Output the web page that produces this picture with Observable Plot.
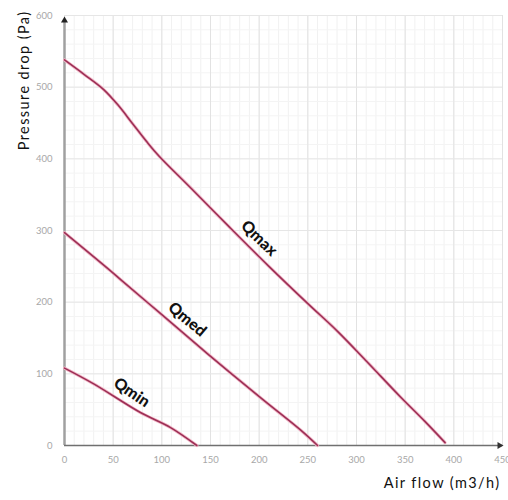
<!DOCTYPE html>
<html>
<head>
<meta charset="utf-8">
<script src="https://cdn.jsdelivr.net/npm/d3@7"></script>
<script src="https://cdn.jsdelivr.net/npm/@observablehq/plot@0.6"></script>
<style>
  html, body { margin: 0; padding: 0; background: #fff; }
  #chart svg { display: block; }
  .axis-title text { letter-spacing: 1.4px; }
</style>
</head>
<body>
<div id="chart"></div>
<script>
// Axis ticks
const xTicks = [0, 50, 100, 150, 200, 250, 300, 350, 400, 450];
const yTicks = [0, 100, 200, 300, 400, 500, 600];

// Curves (air flow m3/h, pressure drop Pa)
const qmaxFlow = [0, 20, 40, 55, 70, 85, 97, 130, 170, 210, 250, 280, 310, 345, 370, 391];
const qmaxPressure = [538, 518, 497, 475, 449, 423, 404, 359, 304, 250, 198, 160, 118, 68, 34, 4];

const qmedFlow = [0, 47, 58, 97, 147, 202, 243, 260];
const qmedPressure = [297, 244, 231, 186, 128, 66, 21, 0];

const qminFlow = [0, 30, 78, 109, 136];
const qminPressure = [108, 86, 46, 25, 0];

// Curve labels
const labelNames = ["Qmax", "Qmed", "Qmin"];
const labelFlow = [200, 126, 69];
const labelPressure = [289, 176, 74];

const curves = [
  ["Qmax", qmaxFlow, qmaxPressure],
  ["Qmed", qmedFlow, qmedPressure],
  ["Qmin", qminFlow, qminPressure]
].flatMap(([name, xs, ys]) => xs.map((x, i) => ({name, flow: x, pressure: ys[i]})));

const labels = labelNames.map((n, i) => ({name: n, flow: labelFlow[i], pressure: labelPressure[i]}));
const labelAngles = {Qmax: 44, Qmed: 40, Qmin: 34};

const xMax = xTicks[xTicks.length - 1];
const yMax = yTicks[yTicks.length - 1];

const chart = Plot.plot({
  width: 508,
  height: 500,
  marginLeft: 64,
  marginRight: 6,
  marginTop: 15,
  marginBottom: 55,
  style: {fontFamily: "Lato, sans-serif", background: "#fff"},
  x: {domain: [0, xMax]},
  y: {domain: [0, yMax]},
  marks: [
    Plot.gridX(d3.range(0, xMax + 1, 10), {stroke: "#f1f1f1", strokeOpacity: 1}),
    Plot.gridY(d3.range(0, yMax + 1, 20), {stroke: "#f4f4f4", strokeOpacity: 1}),
    Plot.gridX(xTicks, {stroke: "#e2e2e2", strokeOpacity: 1}),
    Plot.gridY(yTicks, {stroke: "#e6e6e6", strokeOpacity: 1}),
    Plot.axisX(xTicks, {tickSize: 0, tickPadding: 11, fontSize: 9.5, fill: "#a8a8a8", label: null}),
    Plot.axisY(yTicks, {tickSize: 0, tickPadding: 12, fontSize: 9.5, fill: "#a8a8a8", label: null}),
    Plot.ruleX([0], {y1: 0, y2: yMax * 0.99, stroke: "#a0a0a0", strokeWidth: 2.5}),
    Plot.ruleY([0], {x1: 0, x2: xMax, stroke: "#707070", strokeWidth: 1.5}),
    Plot.dot([{x: 0, y: yMax}], {x: "x", y: "y", symbol: "triangle", r: 2.6, fill: "#222", stroke: "none", dy: 5}),
    Plot.dot([{x: xMax, y: 0}], {x: "x", y: "y", symbol: "triangle", r: 2.6, fill: "#333", stroke: "none", rotate: 90, dx: -3}),
    Plot.line(curves, {x: "flow", y: "pressure", z: "name", stroke: "#f2b8c8", strokeWidth: 3.2, curve: "catmull-rom"}),
    Plot.line(curves, {x: "flow", y: "pressure", z: "name", stroke: "#9c2f55", strokeWidth: 1.6, curve: "catmull-rom"}),
    Plot.text(labels, {x: "flow", y: "pressure", text: "name", rotate: d => labelAngles[d.name], fontSize: 16, fontWeight: 900, fill: "#111"}),
    Plot.text(["Pressure drop (Pa)"], {frameAnchor: "top-left", dx: -46, dy: -5, rotate: -90, textAnchor: "end", fontSize: 14.5, fill: "#111", className: "axis-title"}),
    Plot.text(["Air flow (m3/h)"], {frameAnchor: "bottom-right", dx: -2, dy: 42, textAnchor: "end", fontSize: 14.5, fill: "#111", className: "axis-title"})
  ]
});

document.getElementById("chart").appendChild(chart);
</script>
</body>
</html>
